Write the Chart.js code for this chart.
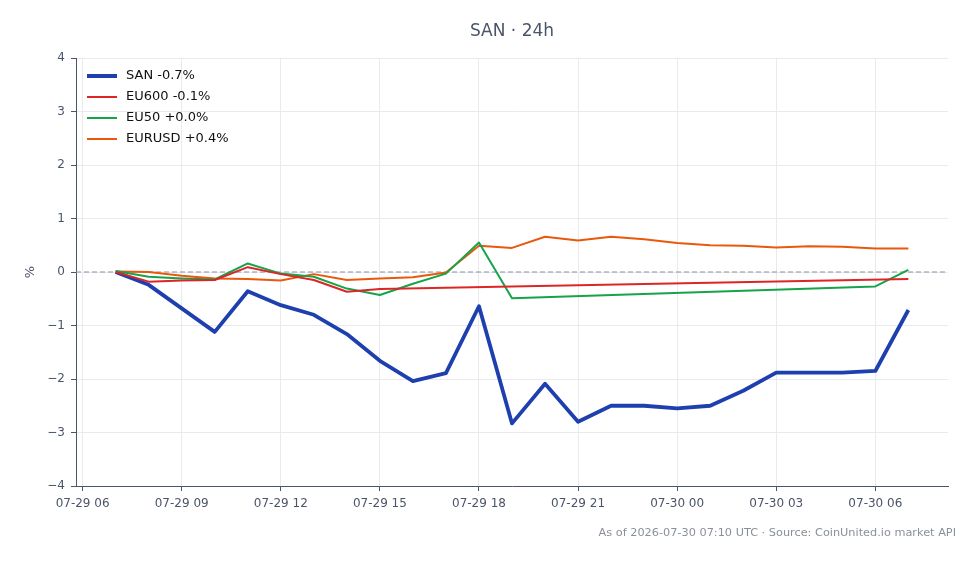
<!DOCTYPE html>
<html>
<head>
<meta charset="utf-8">
<script src="https://cdn.jsdelivr.net/npm/chart.js@4/dist/chart.umd.min.js"></script>
<style>
  html, body { margin: 0; padding: 0; background: #fff; }
  #wrap { width: 980px; height: 564px; }
</style>
</head>
<body>
<div id="wrap"><canvas id="chart" width="980" height="564"></canvas></div>
<script>
// hours since 07-29 00:00 UTC
const hours = [7, 8, 9, 10, 11, 12, 13, 14, 15, 16, 17, 18, 19, 20, 21, 22, 23, 24, 25, 26, 27, 28, 29, 30, 31];

const sanValues = [0, -0.24, -0.68, -1.12, -0.36, -0.62, -0.80, -1.16, -1.66, -2.04, -1.89, -0.64, -2.83,
  -2.09, -2.80, -2.50, -2.50, -2.55, -2.50, -2.22, -1.88, -1.88, -1.88, -1.85, -0.71];
const eu600Values = [0, -0.18, -0.16, -0.15, 0.09, -0.04, -0.15, -0.37, -0.32, null, null, null, null,
  null, null, null, null, null, null, null, null, null, null, null, -0.13];
const eu50Values = [0.02, -0.09, -0.12, -0.14, 0.16, -0.03, -0.09, -0.31, -0.43, -0.22, -0.03, 0.55, -0.49,
  null, null, null, null, null, null, null, null, null, null, -0.27, 0.04];
const eurusdValues = [0.01, 0.0, -0.07, -0.12, -0.13, -0.16, -0.04, -0.15, -0.12, -0.10, -0.01, 0.49, 0.45,
  0.66, 0.59, 0.66, 0.61, 0.54, 0.50, 0.49, 0.46, 0.48, 0.47, 0.44, 0.44];

const tickHours = [6, 9, 12, 15, 18, 21, 24, 27, 30];
const tickLabels = ['07-29 06', '07-29 09', '07-29 12', '07-29 15', '07-29 18', '07-29 21', '07-30 00', '07-30 03', '07-30 06'];

const seriesNames = ['SAN -0.7%', 'EU600 -0.1%', 'EU50 +0.0%', 'EURUSD +0.4%'];
const seriesColors = ['#1e40af', '#dc2626', '#16a34a', '#ea580c'];
const seriesWidths = [3.8, 2, 2, 2];
const seriesData = [sanValues, eu600Values, eu50Values, eurusdValues];

const FONT = "'DejaVu Sans', sans-serif";
const textColor = '#4a5568';
const axisColor = '#4a5568';
const gridColor = '#e8eaee';

const pts = (vals) => hours.map((h, i) => ({ x: h, y: vals[i] }));

// draw order: SAN last so it sits on top
const order = [1, 2, 3, 0];
const datasets = order.map((i) => ({
    label: seriesNames[i],
    data: pts(seriesData[i]),
    borderColor: seriesColors[i],
    backgroundColor: seriesColors[i],
    borderWidth: seriesWidths[i],
    pointRadius: 0,
    tension: 0,
    spanGaps: true,
    borderJoinStyle: 'round',
}));

const extras = {
    id: 'extras',
    beforeDatasetsDraw(chart) {
        const { ctx, chartArea, scales } = chart;
        const y0 = scales.y.getPixelForValue(0);
        ctx.save();
        ctx.strokeStyle = '#8594ad';
        ctx.lineWidth = 1;
        ctx.setLineDash([5, 3]);
        ctx.beginPath();
        ctx.moveTo(chartArea.left, y0);
        ctx.lineTo(chartArea.right, y0);
        ctx.stroke();
        ctx.restore();
    },
    afterDraw(chart) {
        const { ctx, chartArea } = chart;
        ctx.save();
        // title
        ctx.fillStyle = textColor;
        ctx.font = `17px ${FONT}`;
        ctx.textAlign = 'center';
        ctx.textBaseline = 'middle';
        ctx.fillText('SAN · 24h', (chartArea.left + chartArea.right) / 2, 32);

        // y axis title
        ctx.save();
        ctx.translate(31, (chartArea.top + chartArea.bottom) / 2);
        ctx.rotate(-Math.PI / 2);
        ctx.font = `13px ${FONT}`;
        ctx.fillText('%', 0, 0);
        ctx.restore();

        // legend
        ctx.font = `13px ${FONT}`;
        ctx.textAlign = 'left';
        seriesNames.forEach((name, i) => {
            const y = 76 + i * 21;
            ctx.strokeStyle = seriesColors[i];
            ctx.lineWidth = i === 0 ? 4 : 2;
            ctx.beginPath();
            ctx.moveTo(87, y);
            ctx.lineTo(117, y);
            ctx.stroke();
            ctx.fillStyle = '#111';
            ctx.fillText(name, 126, y);
        });

        // footer
        ctx.font = `11.3px ${FONT}`;
        ctx.fillStyle = '#8a9099';
        ctx.textAlign = 'right';
        ctx.fillText('As of 2026-07-30 07:10 UTC · Source: CoinUnited.io market API', 956, 533);
        ctx.restore();
    },
};

new Chart(document.getElementById('chart'), {
    type: 'line',
    data: { datasets },
    options: {
        responsive: false,
        devicePixelRatio: 1,
        animation: false,
        layout: { padding: { top: 58, right: 32, bottom: 40, left: 0 } },
        plugins: {
            legend: { display: false },
            tooltip: { enabled: false },
        },
        scales: {
            x: {
                type: 'linear',
                min: 5.8,
                max: 32.2,
                afterBuildTicks: (scale) => { scale.ticks = tickHours.map((v) => ({ value: v })); },
                afterFit: (scale) => { scale.height = 38; },
                ticks: {
                    color: textColor,
                    font: { family: FONT, size: 12 },
                    padding: 6,
                    maxRotation: 0,
                    autoSkip: false,
                    callback: (v) => tickLabels[tickHours.indexOf(v)],
                },
                grid: { color: gridColor, tickColor: axisColor, tickLength: 5 },
                border: { display: true, color: axisColor, width: 1 },
            },
            y: {
                min: -4,
                max: 4,
                afterFit: (scale) => { scale.width = 76; },
                ticks: {
                    stepSize: 1,
                    color: textColor,
                    font: { family: FONT, size: 12 },
                    padding: 6,
                    callback: (v) => (v < 0 ? '\u2212' + Math.abs(v) : String(v)),
                },
                grid: { color: gridColor, tickColor: axisColor, tickLength: 5 },
                border: { display: true, color: axisColor, width: 1 },
            },
        },
    },
    plugins: [extras],
});
</script>
</body>
</html>
